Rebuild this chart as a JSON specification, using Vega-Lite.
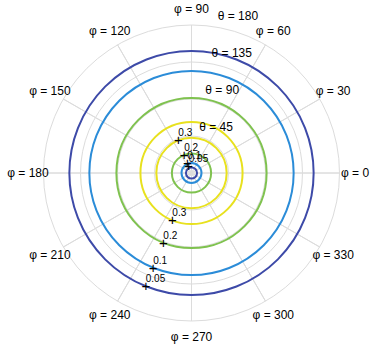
{
  "$schema": "https://vega.github.io/schema/vega-lite/v6.json",
  "width": 373,
  "height": 346,
  "autosize": "none",
  "padding": {"left": 5, "top": 0, "right": 0, "bottom": 12},
  "background": "white",
  "config": {"view": {"stroke": null}, "text": {"font": "Liberation Sans"}},
  "datasets": {
    "rings": [{"r": 1}, {"r": 2}, {"r": 3}, {"r": 4}],
    "spokes": [{"phi": 0}, {"phi": 30}, {"phi": 60}, {"phi": 90}, {"phi": 120}, {"phi": 150}, {"phi": 180}, {"phi": 210}, {"phi": 240}, {"phi": 270}, {"phi": 300}, {"phi": 330}],
    "phiLabels": [
      {"phi": 0, "label": "φ = 0"}, {"phi": 30, "label": "φ = 30"}, {"phi": 60, "label": "φ = 60"},
      {"phi": 90, "label": "φ = 90"}, {"phi": 120, "label": "φ = 120"}, {"phi": 150, "label": "φ = 150"},
      {"phi": 180, "label": "φ = 180"}, {"phi": 210, "label": "φ = 210"}, {"phi": 240, "label": "φ = 240"},
      {"phi": 270, "label": "φ = 270"}, {"phi": 300, "label": "φ = 300"}, {"phi": 330, "label": "φ = 330"}
    ],
    "curves": [
      {"theta": "45", "r": 1.38}, {"theta": "45", "r": 0.95},
      {"theta": "90", "r": 2.03}, {"theta": "90", "r": 0.53},
      {"theta": "135", "r": 2.76}, {"theta": "135", "r": 0.27},
      {"theta": "180", "r": 3.3}, {"theta": "180", "r": 0.15}
    ],
    "thetaLabels": [
      {"label": "θ = 45", "phi": 80.5, "r": 1.26},
      {"label": "θ = 90", "phi": 80.5, "r": 2.27},
      {"label": "θ = 135", "phi": 80.5, "r": 3.29},
      {"label": "θ = 180", "phi": 80.5, "r": 4.3}
    ],
    "markers": [
      {"label": "0.3", "phi": 248, "r": 1.38}, {"label": "0.2", "phi": 248, "r": 2.03},
      {"label": "0.1", "phi": 248, "r": 2.76}, {"label": "0.05", "phi": 248, "r": 3.3},
      {"label": "0.3", "phi": 112, "r": 0.95}, {"label": "0.2", "phi": 112, "r": 0.53},
      {"label": "0.1", "phi": 112, "r": 0.3}, {"label": "0.05", "phi": 112, "r": 0.2}
    ]
  },
  "layer": [
    {
      "data": {"name": "rings"},
      "mark": {"type": "arc", "filled": false, "stroke": "#dcdcdc", "strokeWidth": 1, "theta": 0, "theta2": 6.2832},
      "encoding": {
        "radius": {"field": "r", "type": "quantitative", "stack": null, "scale": {"type": "linear", "domain": [0, 4], "range": [0, 148]}}
      }
    },
    {
      "data": {"name": "spokes"},
      "mark": {"type": "arc", "filled": false, "stroke": "#dcdcdc", "strokeWidth": 1},
      "encoding": {
        "theta": {"field": "phi", "type": "quantitative", "stack": null, "scale": {"type": "linear", "domain": [0, 360], "range": [1.5708, -4.7124]}},
        "theta2": {"field": "phi"},
        "radius": {"datum": 4, "type": "quantitative", "stack": null, "scale": {"type": "linear", "domain": [0, 4], "range": [0, 148]}}
      }
    },
    {
      "data": {"name": "curves"},
      "mark": {"type": "arc", "filled": false, "strokeWidth": 2, "theta": 0, "theta2": 6.2832},
      "encoding": {
        "radius": {"field": "r", "type": "quantitative", "stack": null, "scale": {"type": "linear", "domain": [0, 4], "range": [0, 148]}},
        "color": {"field": "theta", "type": "nominal", "legend": null,
          "scale": {"domain": ["45", "90", "135", "180"], "range": ["#e8e11e", "#7fc24f", "#2b8cd8", "#3d4aa8"]}}
      }
    },
    {
      "data": {"name": "phiLabels"},
      "mark": {"type": "text", "fontSize": 12, "align": "center", "baseline": "middle", "color": "#000000"},
      "encoding": {
        "theta": {"field": "phi", "type": "quantitative", "stack": null, "scale": {"type": "linear", "domain": [0, 360], "range": [1.5708, -4.7124]}},
        "radius": {"datum": 4.42, "type": "quantitative", "stack": null, "scale": {"type": "linear", "domain": [0, 4], "range": [0, 148]}},
        "text": {"field": "label"}
      }
    },
    {
      "data": {"name": "thetaLabels"},
      "mark": {"type": "text", "fontSize": 12, "align": "left", "baseline": "middle", "color": "#000000"},
      "encoding": {
        "theta": {"field": "phi", "type": "quantitative", "stack": null, "scale": {"type": "linear", "domain": [0, 360], "range": [1.5708, -4.7124]}},
        "radius": {"field": "r", "type": "quantitative", "stack": null, "scale": {"type": "linear", "domain": [0, 4], "range": [0, 148]}},
        "text": {"field": "label"}
      }
    },
    {
      "data": {"name": "markers"},
      "mark": {"type": "text", "text": "+", "fontSize": 15, "align": "center", "baseline": "middle", "color": "#000000"},
      "encoding": {
        "theta": {"field": "phi", "type": "quantitative", "stack": null, "scale": {"type": "linear", "domain": [0, 360], "range": [1.5708, -4.7124]}},
        "radius": {"field": "r", "type": "quantitative", "stack": null, "scale": {"type": "linear", "domain": [0, 4], "range": [0, 148]}}
      }
    },
    {
      "data": {"name": "markers"},
      "mark": {"type": "text", "fontSize": 10, "align": "left", "baseline": "middle", "dx": 0, "dy": -7, "color": "#000000"},
      "encoding": {
        "theta": {"field": "phi", "type": "quantitative", "stack": null, "scale": {"type": "linear", "domain": [0, 360], "range": [1.5708, -4.7124]}},
        "radius": {"field": "r", "type": "quantitative", "stack": null, "scale": {"type": "linear", "domain": [0, 4], "range": [0, 148]}},
        "text": {"field": "label"}
      }
    }
  ]
}
